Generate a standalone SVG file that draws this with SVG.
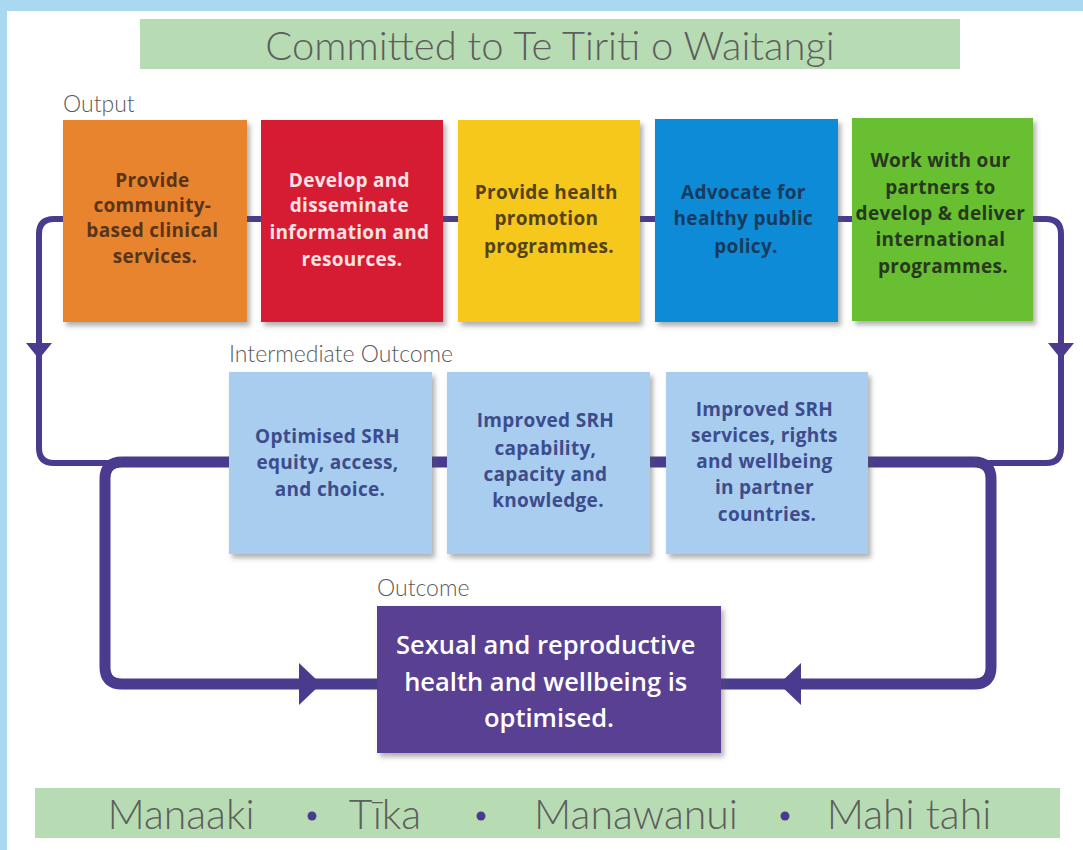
<svg xmlns="http://www.w3.org/2000/svg" width="1083" height="850" viewBox="0 0 1083 850">
  <defs>
    <filter id="shadow" x="-10%" y="-10%" width="125%" height="125%">
      <feDropShadow dx="3" dy="4" stdDeviation="2.5" flood-color="#555" flood-opacity="0.45"/>
    </filter>
    <style>
      .band { fill: #b7dcb3; }
      .light { font-family: Lato, "Liberation Sans", sans-serif; font-weight: 300; fill: #5e5e5e; }
      .head { font-family: Lato, "Liberation Sans", sans-serif; font-weight: 300; font-size: 23px; fill: #5a5a5a; }
      .box { filter: url(#shadow); }
      .bt { font-family: "Open Sans", "Liberation Sans", sans-serif; font-weight: 700; font-size: 19px; letter-spacing: 0.3px; text-anchor: middle; }
      .it { font-family: "Open Sans", "Liberation Sans", sans-serif; font-weight: 700; font-size: 19px; letter-spacing: 0.3px; text-anchor: middle; fill: #3c4c8c; }
      .thin { fill: none; stroke: #4b3b8f; stroke-width: 6; }
      .thick { fill: none; stroke: #4b3b8f; stroke-width: 11; }
      .head-arrow { fill: #4b3b8f; }
    </style>
  </defs>

  <!-- page background and light-blue frame edge -->
  <rect x="0" y="0" width="1083" height="850" fill="#ffffff"/>
  <rect x="0" y="0" width="1083" height="11" fill="#a9d9f1"/>
  <rect x="0" y="0" width="7" height="850" fill="#a9d9f1"/>

  <!-- title band -->
  <g id="title">
    <rect class="band" x="140" y="19" width="820" height="50"/>
    <text class="light" x="550" y="60" font-size="40" text-anchor="middle">Committed to Te Tiriti o Waitangi</text>
  </g>

  <!-- section headings -->
  <text class="head" x="63" y="112">Output</text>
  <text class="head" x="229" y="362">Intermediate Outcome</text>
  <text class="head" x="377" y="596">Outcome</text>

  <!-- connectors -->
  <g id="connectors">
    <!-- stubs between output boxes -->
    <line class="thin" x1="245" y1="219" x2="263" y2="219"/>
    <line class="thin" x1="441" y1="219" x2="460" y2="219"/>
    <line class="thin" x1="638" y1="219" x2="657" y2="219"/>
    <line class="thin" x1="836" y1="219" x2="854" y2="219"/>
    <!-- left feedback loop -->
    <path class="thin" d="M65 219 H54 Q39 219 39 234 V448 Q39 463 54 463 H110"/>
    <polygon class="head-arrow" points="26,343 52,343 39,359"/>
    <!-- right feedback loop -->
    <path class="thin" d="M1031 219 H1046 Q1061 219 1061 234 V448 Q1061 463 1046 463 H985"/>
    <polygon class="head-arrow" points="1048,343 1074,343 1061,359"/>
    <!-- stubs between intermediate boxes -->
    <line class="thick" x1="430" y1="462" x2="449" y2="462"/>
    <line class="thick" x1="648" y1="462" x2="668" y2="462"/>
    <!-- left path to outcome -->
    <path class="thick" d="M231 462 H122 Q105 462 105 479 V667 Q105 684 122 684 H379"/>
    <polygon class="head-arrow" points="299,663 321,684 299,705"/>
    <!-- right path to outcome -->
    <path class="thick" d="M866 462 H974 Q991 462 991 479 V667 Q991 684 974 684 H719"/>
    <polygon class="head-arrow" points="801,663 779,684 801,705"/>
  </g>

  <!-- output boxes -->
  <g id="out-clinical">
    <rect class="box" x="63" y="120" width="184" height="202" fill="#e9842f"/>
    <text class="bt" fill="#5a3418">
      <tspan x="155" y="187">Provide</tspan>
      <tspan x="155" y="212">community-</tspan>
      <tspan x="155" y="237">based clinical</tspan>
      <tspan x="155" y="263">services.</tspan>
    </text>
  </g>
  <g id="out-information">
    <rect class="box" x="261" y="120" width="182" height="202" fill="#d61a32"/>
    <text class="bt" fill="#fbe3e3">
      <tspan x="352" y="187">Develop and</tspan>
      <tspan x="352" y="212">disseminate</tspan>
      <tspan x="352" y="239">information and</tspan>
      <tspan x="352" y="266">resources.</tspan>
    </text>
  </g>
  <g id="out-promotion">
    <rect class="box" x="458" y="120" width="182" height="202" fill="#f6c81e"/>
    <text class="bt" fill="#54431a">
      <tspan x="549" y="199">Provide health</tspan>
      <tspan x="549" y="225">promotion</tspan>
      <tspan x="549" y="253">programmes.</tspan>
    </text>
  </g>
  <g id="out-policy">
    <rect class="box" x="655" y="119" width="183" height="203" fill="#0d8bd6"/>
    <text class="bt" fill="#173a5e">
      <tspan x="746" y="199">Advocate for</tspan>
      <tspan x="746" y="225">healthy public</tspan>
      <tspan x="746" y="253">policy.</tspan>
    </text>
  </g>
  <g id="out-international">
    <rect class="box" x="852" y="118" width="181" height="203" fill="#68bf31"/>
    <text class="bt" fill="#27381f">
      <tspan x="943" y="167">Work with our</tspan>
      <tspan x="943" y="194">partners to</tspan>
      <tspan x="943" y="220">develop &amp; deliver</tspan>
      <tspan x="943" y="246">international</tspan>
      <tspan x="943" y="273">programmes.</tspan>
    </text>
  </g>

  <!-- intermediate outcome boxes -->
  <g id="int-equity">
    <rect class="box" x="229" y="372" width="203" height="182" fill="#a9cdee"/>
    <text class="it">
      <tspan x="330" y="443">Optimised SRH</tspan>
      <tspan x="330" y="469">equity, access,</tspan>
      <tspan x="330" y="496">and choice.</tspan>
    </text>
  </g>
  <g id="int-capability">
    <rect class="box" x="447" y="372" width="203" height="182" fill="#a9cdee"/>
    <text class="it">
      <tspan x="548" y="427">Improved SRH</tspan>
      <tspan x="548" y="455">capability,</tspan>
      <tspan x="548" y="481">capacity and</tspan>
      <tspan x="548" y="507">knowledge.</tspan>
    </text>
  </g>
  <g id="int-partners">
    <rect class="box" x="666" y="372" width="202" height="182" fill="#a9cdee"/>
    <text class="it">
      <tspan x="767" y="416">Improved SRH</tspan>
      <tspan x="767" y="442">services, rights</tspan>
      <tspan x="767" y="468">and wellbeing</tspan>
      <tspan x="767" y="494">in partner</tspan>
      <tspan x="767" y="521">countries.</tspan>
    </text>
  </g>

  <!-- final outcome -->
  <g id="outcome">
    <rect class="box" x="377" y="606" width="344" height="147" fill="#5a3f93"/>
    <text font-family="'Open Sans', 'Liberation Sans', sans-serif" font-weight="600" font-size="25.5" fill="#ffffff" text-anchor="middle">
      <tspan x="549" y="654">Sexual and reproductive</tspan>
      <tspan x="549" y="691">health and wellbeing is</tspan>
      <tspan x="549" y="727">optimised.</tspan>
    </text>
  </g>

  <!-- values band -->
  <g id="values">
    <rect class="band" x="35" y="788" width="1025" height="50"/>
    <g class="light" font-size="41" text-anchor="middle">
      <text x="181" y="829">Manaaki</text>
      <text x="385" y="829">Tīka</text>
      <text x="636" y="829">Manawanui</text>
      <text x="909" y="829">Mahi tahi</text>
    </g>
    <circle cx="312" cy="816" r="4.5" fill="#4b3b8f"/>
    <circle cx="481" cy="816" r="4.5" fill="#4b3b8f"/>
    <circle cx="785" cy="816" r="4.5" fill="#4b3b8f"/>
  </g>
</svg>
